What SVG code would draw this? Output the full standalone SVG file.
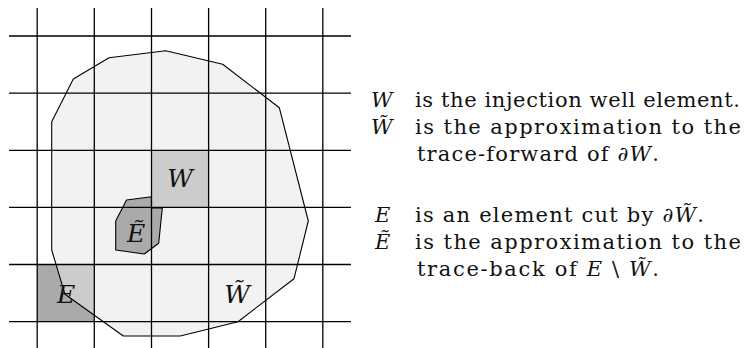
<svg xmlns="http://www.w3.org/2000/svg" width="744" height="348" viewBox="0 0 744 348">
<style>
.grid{stroke:#000;stroke-width:1.3;fill:none}
.outline{stroke:#000;stroke-width:1.1;fill:none;stroke-linejoin:round}
.lbl{font-family:"DejaVu Serif",serif;font-style:italic;font-size:25px;fill:#111;text-anchor:middle}
.txt{font-family:"DejaVu Serif",serif;font-size:21px;fill:#111}
.mi{font-style:italic}
</style>
<defs>
<clipPath id="wclip"><polygon points="165.7,50.7 222.7,64.3 279.3,107.7 308.3,221 294,278.7 238,321.7 180.3,336 123.3,336 65,294.3 51.7,250 51.7,121.7 73.3,79 109,57.7"/></clipPath>
</defs>
<rect width="744" height="348" fill="#fff"/>
<g id="Wtilde">
<polygon points="165.7,50.7 222.7,64.3 279.3,107.7 308.3,221 294,278.7 238,321.7 180.3,336 123.3,336 65,294.3 51.7,250 51.7,121.7 73.3,79 109,57.7" fill="#f2f2f2"/>
</g>
<g id="W">
<rect x="151.5" y="150.3" width="57.1" height="57.1" fill="#cccccc"/>
</g>
<g id="E">
<rect x="37.2" y="264.5" width="57.1" height="57.1" fill="#aaaaaa"/>
<rect x="37.2" y="264.5" width="57.1" height="57.1" fill="#cccccc" clip-path="url(#wclip)"/>
</g>
<g id="Etilde">
<polygon points="151.5,196.7 126.5,200 115.7,221 115.7,250 144.3,254 158.7,243.3 162.3,208 151.5,208" fill="#aaaaaa" stroke="#000" stroke-width="1.1" stroke-linejoin="round"/>
</g>
<g id="grid">
<line class="grid" x1="9" y1="36" x2="351" y2="36"/>
<line class="grid" x1="9" y1="93.2" x2="351" y2="93.2"/>
<line class="grid" x1="9" y1="150.3" x2="351" y2="150.3"/>
<line class="grid" x1="9" y1="207.4" x2="351" y2="207.4"/>
<line class="grid" x1="9" y1="264.5" x2="351" y2="264.5"/>
<line class="grid" x1="9" y1="321.6" x2="351" y2="321.6"/>
<line class="grid" x1="37.2" y1="8" x2="37.2" y2="348"/>
<line class="grid" x1="94.3" y1="8" x2="94.3" y2="348"/>
<line class="grid" x1="151.5" y1="8" x2="151.5" y2="348"/>
<line class="grid" x1="208.6" y1="8" x2="208.6" y2="348"/>
<line class="grid" x1="265.7" y1="8" x2="265.7" y2="348"/>
<line class="grid" x1="322.8" y1="8" x2="322.8" y2="348"/>
</g>
<g id="connectors">
<polygon class="outline" points="165.7,50.7 222.7,64.3 279.3,107.7 308.3,221 294,278.7 238,321.7 180.3,336 123.3,336 65,294.3 51.7,250 51.7,121.7 73.3,79 109,57.7"/>
</g>
<g id="labels">
<text class="lbl" x="180" y="187">W</text>
<text class="lbl" x="136" y="242">Ẽ</text>
<text class="lbl" x="66" y="302.5">E</text>
<text class="lbl" x="237" y="302.5">W̃</text>
</g>
<g id="legend">
<text class="txt mi" x="371" y="107">W</text>
<text class="txt" x="415" y="107" textLength="325" lengthAdjust="spacing">is the injection well element.</text>
<text class="txt mi" x="371" y="134">W̃</text>
<text class="txt" x="415" y="134" textLength="326" lengthAdjust="spacing">is the approximation to the</text>
<text class="txt" x="417" y="161" textLength="242" lengthAdjust="spacing">trace-forward of <tspan class="mi">∂W</tspan>.</text>
<text class="txt mi" x="375" y="222">E</text>
<text class="txt" x="415" y="222" textLength="289" lengthAdjust="spacing">is an element cut by <tspan class="mi">∂W̃</tspan>.</text>
<text class="txt mi" x="375" y="249">Ẽ</text>
<text class="txt" x="415" y="249" textLength="326" lengthAdjust="spacing">is the approximation to the</text>
<text class="txt" x="417" y="276" textLength="242" lengthAdjust="spacing">trace-back of <tspan class="mi">E</tspan> \ <tspan class="mi">W̃</tspan>.</text>
</g>
</svg>
